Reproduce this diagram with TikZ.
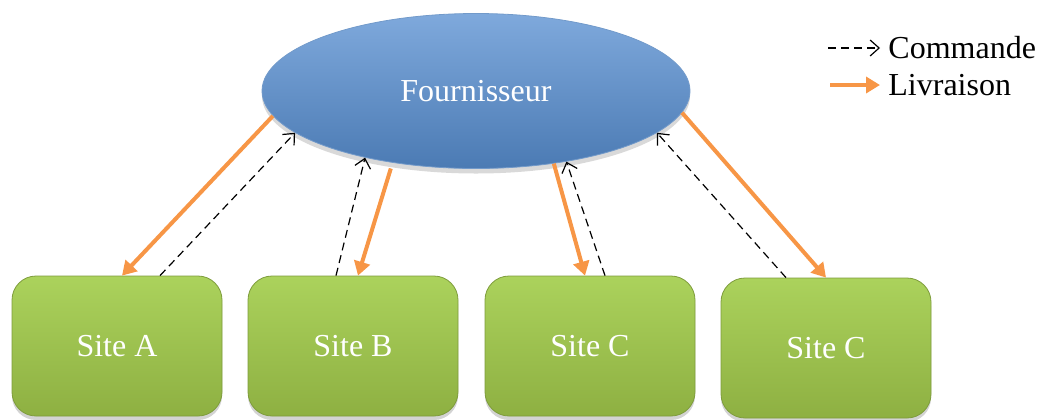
\documentclass[tikz,border=0pt]{standalone}
\usepackage{fontspec}
\setmainfont{Liberation Serif}
\usepackage{xcolor}
\usetikzlibrary{shapes.geometric,arrows.meta,positioning,shadows}
\definecolor{ellTop}{HTML}{7FA9DC}
\definecolor{ellMain}{HTML}{4F81BD}
\definecolor{siteTop}{HTML}{ABD25C}
\definecolor{siteBot}{HTML}{8EB042}
\definecolor{siteEdge}{HTML}{7E9C3C}
\definecolor{livOrange}{HTML}{F79646}

\begin{document}
\begin{tikzpicture}[
    x=0.5pt, y=-0.5pt,
    font=\fontsize{16}{19}\selectfont,
    fourn/.style={ellipse, minimum width=214pt, minimum height=77.5pt, inner sep=0pt, text=white,
        top color=ellTop, middle color=ellMain, bottom color=ellMain!95!black, draw=ellMain!80!white, thin,
        drop shadow={opacity=0.3, shadow xshift=0pt, shadow yshift=-2.5pt}},
    site/.style={rectangle, rounded corners=12pt, minimum width=105pt, minimum height=70pt, text=white,
        top color=siteTop, bottom color=siteBot, draw=siteEdge, thin,
        drop shadow={opacity=0.35, shadow xshift=0pt, shadow yshift=-2pt}},
    cmd/.style={-{Straight Barb[length=4.5pt,width=8pt]}, dashed, dash pattern=on 4pt off 2.5pt, line width=0.6pt},
    liv/.style={-{Triangle[length=7pt,width=8pt]}, livOrange, line width=2pt}
]
\useasboundingbox (0,0) rectangle (1042,419);
\node[fourn] (f) at (476,91) {Fournisseur};
\node[site] (sA) at (117,346) {Site A};
\node[site] (sB) at (353,346) {Site B};
\node[site] (sC) at (590,346) {Site C};
\node[site] (sD) at (826,348) {Site C};
\draw[liv] (f.187) -- ([xshift=2.5pt]sA.north);
\draw[cmd] ([xshift=21.5pt]sA.north) -- (f.193);
\draw[cmd] ([xshift=-8.5pt]sB.north) -- (f.211);
\draw[liv] ([yshift=-3pt]f.220) -- ([xshift=2.5pt]sB.north);
\draw[liv] (f.317) -- ([xshift=-2.5pt]sC.north);
\draw[cmd] ([xshift=7.5pt]sC.north) -- (f.322);
\draw[cmd] ([xshift=-20pt]sD.north) -- (f.347);
\draw[liv] (f.354) -- (sD.north);
\node[anchor=west, inner sep=0pt] (cmdlbl) at (888,48) {Commande};
\node[anchor=west, inner sep=0pt] (livlbl) at (888,85) {Livraison};
\coordinate (cmdstart) at (828,48);
\coordinate (livstart) at (830,85);
\draw[cmd, shorten >=4pt] (cmdstart) -- (cmdlbl.west);
\draw[liv, shorten >=4pt] (livstart) -- (livlbl.west);
\end{tikzpicture}
\end{document}
